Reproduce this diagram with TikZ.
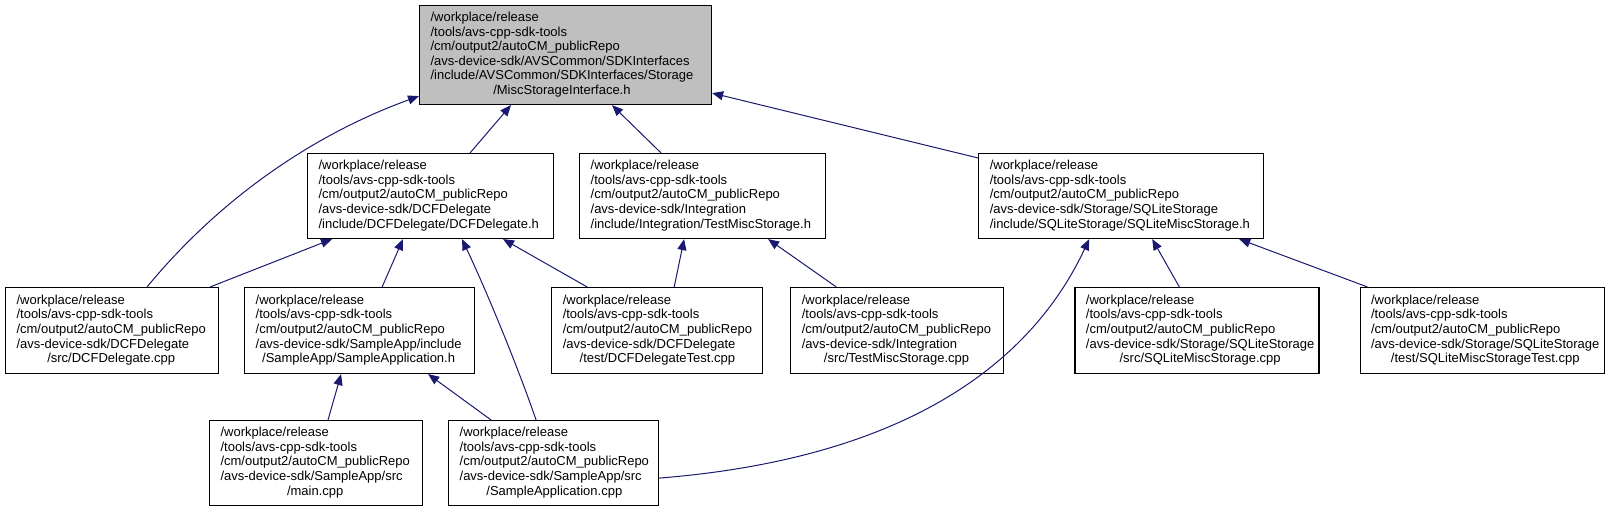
\documentclass[tikz,border=0pt]{standalone}
\usepackage{fontspec}
\setmainfont{Liberation Sans}
\usepackage{tikz}
\usetikzlibrary{arrows.meta,positioning}
\definecolor{edgeblue}{HTML}{191970}
\definecolor{rootgray}{HTML}{BFBFBF}
\newcommand{\repo}{/workplace/release\\/tools/avs-cpp-sdk-tools\\/cm/output2/autoCM\_publicRepo}
\newcommand{\fpath}[2]{\begin{tabular}{@{}l@{}}\repo\\#1\\\multicolumn{1}{@{}c@{}}{#2}\end{tabular}}

\begin{document}
\begin{tikzpicture}[x=1pt,y=-1pt,
  fb/.style={draw,line width=1.1pt,anchor=north west,align=left,inner xsep=11pt,inner ysep=0pt,text width=#1,minimum height=86pt,font=\fontsize{13}{14.6}\selectfont},
  ar/.style={-{Triangle[length=11pt,width=9pt]},draw=edgeblue,line width=1pt}]
\useasboundingbox (0,0) rectangle (1609,511);
% header under test
\node[fb=270pt,fill=rootgray,minimum height=99pt] (root) at (419,5) {\fpath{/avs-device-sdk/AVSCommon/SDKInterfaces\\/include/AVSCommon/SDKInterfaces/Storage}{/MiscStorageInterface.h}};
% direct includers
\node[fb=224pt,minimum height=85pt] (dh) at (307,153) {\fpath{/avs-device-sdk/DCFDelegate}{/include/DCFDelegate/DCFDelegate.h}};
\node[fb=224pt,minimum height=85pt,right=25pt of dh] (th) {\fpath{/avs-device-sdk/Integration}{/include/Integration/TestMiscStorage.h}};
\node[fb=263pt,minimum height=85pt,right=152pt of th] (sh) {\fpath{/avs-device-sdk/Storage/SQLiteStorage}{/include/SQLiteStorage/SQLiteMiscStorage.h}};
% second level
\node[fb=191pt] (dcpp) at (5,287) {\fpath{/avs-device-sdk/DCFDelegate}{/src/DCFDelegate.cpp}};
\node[fb=208pt,right=25pt of dcpp] (sah) {\fpath{/avs-device-sdk/SampleApp/include}{/SampleApp/SampleApplication.h}};
\node[fb=189pt,right=76pt of sah] (dtest) {\fpath{/avs-device-sdk/DCFDelegate}{/test/DCFDelegateTest.cpp}};
\node[fb=191pt,right=27pt of dtest] (tcpp) {\fpath{/avs-device-sdk/Integration}{/src/TestMiscStorage.cpp}};
\node[fb=222pt,right=70pt of tcpp] (scpp) {\fpath{/avs-device-sdk/Storage/SQLiteStorage}{/src/SQLiteMiscStorage.cpp}};
\node[fb=222pt,right=40pt of scpp] (stest) {\fpath{/avs-device-sdk/Storage/SQLiteStorage}{/test/SQLiteMiscStorageTest.cpp}};
% sample app sources
\node[fb=191pt,minimum height=85pt] (main) at (209,420) {\fpath{/avs-device-sdk/SampleApp/src}{/main.cpp}};
\node[fb=188pt,minimum height=85pt,right=25pt of main] (sacpp) {\fpath{/avs-device-sdk/SampleApp/src}{/SampleApplication.cpp}};
% include edges
\draw[ar] ([xshift=142pt]dcpp.north west) .. controls +(70,-85) and +(-110,40) .. ([yshift=9pt]root.south west);
\draw[ar] ([xshift=163pt]dh.north west) -- ([xshift=92pt]root.south west);
\draw[ar] ([xshift=82pt]th.north west) -- ([xshift=193pt]root.south west);
\draw[ar] ([yshift=-5pt]sh.north west) -- ([yshift=12pt]root.south east);
\draw[ar] ([xshift=205pt]dcpp.north west) -- ([xshift=25pt]dh.south west);
\draw[ar] ([xshift=138pt]sah.north west) -- ([xshift=96pt]dh.south west);
\draw[ar] ([xshift=88pt]sacpp.north west) .. controls +(-19,-55) and +(25,53) .. ([xshift=155pt]dh.south west);
\draw[ar] ([xshift=36pt]dtest.north west) -- ([xshift=196pt]dh.south west);
\draw[ar] ([xshift=123pt]dtest.north west) -- ([xshift=105pt]th.south west);
\draw[ar] ([xshift=46pt]tcpp.north west) -- ([xshift=189pt]th.south west);
\draw[ar] ([yshift=28pt]sacpp.south east) .. controls +(250,-20) and +(-57,122) .. ([xshift=111pt]sh.south west);
\draw[ar] ([xshift=105pt]scpp.north west) -- ([xshift=174pt]sh.south west);
\draw[ar] ([xshift=8pt]stest.north west) -- ([xshift=261pt]sh.south west);
\draw[ar] ([xshift=119pt]main.north west) -- ([xshift=97pt]sah.south west);
\draw[ar] ([xshift=43pt]sacpp.north west) -- ([xshift=184pt]sah.south west);
\end{tikzpicture}
\end{document}
